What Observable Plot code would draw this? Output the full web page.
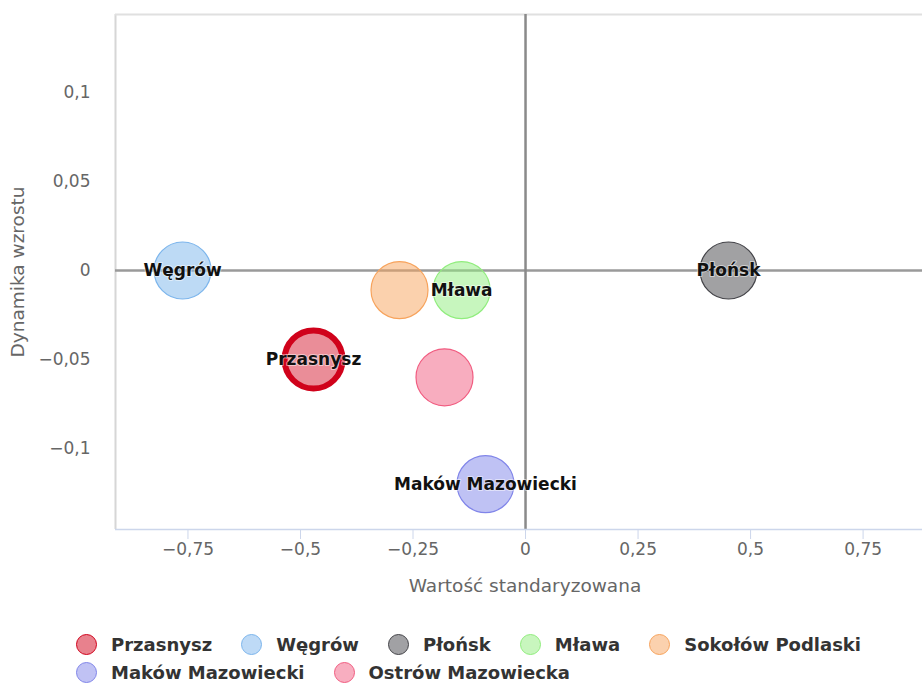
<!DOCTYPE html>
<html>
<head>
<meta charset="utf-8">
<script src="https://cdn.jsdelivr.net/npm/d3@7"></script>
<script src="https://cdn.jsdelivr.net/npm/@observablehq/plot@0.6"></script>
<style>
  html, body { margin: 0; padding: 0; background: #fff; }
  body { width: 922px; height: 686px; position: relative; overflow: hidden; font-family: "DejaVu Sans", sans-serif; }
  #legend { position: absolute; left: 76px; top: 632px; width: 810px; display: flex; flex-wrap: wrap; column-gap: 29px; row-gap: 4px; }
  .item { display: flex; align-items: center; height: 24px; font-size: 18px; font-weight: bold; color: #333; }
  .sw { width: 21px; height: 21px; border-radius: 50%; margin-right: 14px; box-sizing: border-box; border: 1.5px solid; }
</style>
</head>
<body>
<div id="chart"></div>
<div id="legend"></div>
<script>
const cities = ["Przasnysz", "Węgrów", "Płońsk", "Mława", "Sokołów Podlaski", "Maków Mazowiecki", "Ostrów Mazowiecka"];
const xValues = [-0.471, -0.762, 0.451, -0.142, -0.28, -0.089, -0.18];
const yValues = [-0.05, 0, 0, -0.011, -0.011, -0.12, -0.06];
const colors = ["#d0021b", "#7cb5ec", "#434348", "#90ed7d", "#f7a35c", "#8085e9", "#f15c80"];
const showLabel = [true, true, true, true, false, true, false];
const xTicks = [-0.75, -0.5, -0.25, 0, 0.25, 0.5, 0.75];
const yTicks = [-0.1, -0.05, 0, 0.05, 0.1];
const xTitle = "Wartość standaryzowana";
const yTitle = "Dynamika wzrostu";

const data = cities.map((c, i) => ({name: c, x: xValues[i], y: yValues[i], color: colors[i], label: showLabel[i]}));
const fmt = d => d === 0 ? "0" : String(d).replace("-", "\u2212").replace(".", ",");
const xDomain = [-0.911, 0.882];
const yDomain = [-0.1455, 0.1438];

const chart = Plot.plot({
  width: 922,
  height: 610,
  marginTop: 14,
  marginBottom: 81,
  marginLeft: 115,
  marginRight: 0,
  style: {fontFamily: "DejaVu Sans, sans-serif", background: "#fff"},
  x: {domain: xDomain},
  y: {domain: yDomain},
  marks: [
    Plot.ruleX([xDomain[0]], {stroke: "#d6d6d6", strokeWidth: 2}),
    Plot.ruleY([yDomain[1]], {stroke: "#e0e0e0", strokeWidth: 2}),
    Plot.ruleY([0], {stroke: "#9a9a9a", strokeWidth: 2.5}),
    Plot.ruleX([0], {stroke: "#8a8a8a", strokeWidth: 2.5}),
    Plot.ruleY([yDomain[0]], {stroke: "#ccd6eb", strokeWidth: 1.5}),
    Plot.axisX({ticks: xTicks, tickFormat: fmt, tickSize: 10, tickPadding: 3, stroke: "#ccd6eb", fill: "#666", fontSize: 17, label: null}),
    Plot.axisY({ticks: yTicks, tickFormat: fmt, tickSize: 0, tickPadding: 25, fill: "#666", fontSize: 17, label: null}),
    Plot.text([xTitle], {frameAnchor: "bottom", dy: 62, dx: 6, fill: "#666", fontSize: 18.5}),
    Plot.text([yTitle], {frameAnchor: "left", textAnchor: "middle", rotate: -90, dx: -97, fill: "#666", fontSize: 18.5}),
    Plot.dot(data.filter(d => d.name !== "Przasnysz"), {x: "x", y: "y", r: 28.5, fill: "color", fillOpacity: 0.5, stroke: "color", strokeWidth: 1.2}),
    Plot.dot(data.filter(d => d.name === "Przasnysz"), {x: "x", y: "y", r: 29, fill: "color", fillOpacity: 0.45, stroke: "color", strokeWidth: 6}),
    Plot.text(data.filter(d => d.label), {x: "x", y: "y", text: "name", fontWeight: "bold", fontSize: 17, fill: "#111", stroke: "#fff", strokeWidth: 2, strokeOpacity: 0.5})
  ]
});
document.getElementById("chart").appendChild(chart);

const legend = document.getElementById("legend");
data.forEach(d => {
  const it = document.createElement("div");
  it.className = "item";
  const sw = document.createElement("span");
  sw.className = "sw";
  sw.style.background = d3.interpolateRgb("#fff", d.color)(0.5);
  sw.style.borderColor = d.color;
  it.appendChild(sw);
  it.appendChild(document.createTextNode(d.name));
  legend.appendChild(it);
});
</script>
</body>
</html>
